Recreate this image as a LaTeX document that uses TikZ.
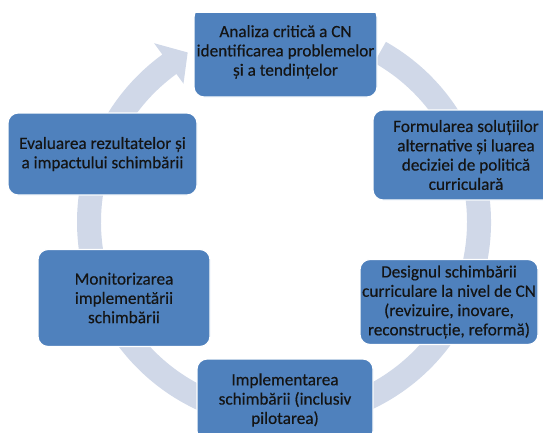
\documentclass[tikz,border=0pt]{standalone}
\usepackage{fontspec}
\setmainfont{Carlito}[FakeBold=0.4]
\definecolor{stageblue}{RGB}{79,129,189}
\definecolor{ringblue}{RGB}{208,216,232}
\definecolor{stagetext}{RGB}{20,20,20}
\begin{document}
\begin{tikzpicture}[x=1pt, y=1pt,
    stage/.style={draw=white, line width=1.2pt, fill=stageblue, rounded corners=10pt,
      text=stagetext, align=center, inner sep=0pt,
      font=\fontsize{17.2}{19.3}\selectfont},
    ring/.style={fill=ringblue}]
    \useasboundingbox (0,0) rectangle (543,-432);
    \clip (0,-13) rectangle (543,-432);
    % circular arrow behind the stages
    \fill[ring] ([shift={(284,-222)}]60.5:207) arc[start angle=60.5, end angle=-234, radius=207]
      -- ([shift={(284,-222)}]-234:221) -- ([shift={(284,-222)}]-240.4:195)
      -- ([shift={(284,-222)}]-234:171) -- ([shift={(284,-222)}]-234:183)
      arc[start angle=-234, end angle=60.5, radius=183] -- cycle;
    \node[stage, minimum width=183pt, minimum height=90pt] (analiza) at (285.5,-52)
      {Analiza critică a CN\\identificarea problemelor\\și a tendințelor};
    \node[stage, minimum width=186pt, minimum height=90pt] (formulare) at (466,-155)
      {Formularea soluțiilor\\alternative și luarea\\deciziei de politică\\curriculară};
    \node[stage, minimum width=178pt, minimum height=85pt] (design) at (449,-302)
      {Designul schimbării\\curriculare la nivel de CN\\(revizuire, inovare,\\reconstrucție, reformă)};
    \node[stage, minimum width=176pt, minimum height=82pt] (implementare) at (285,-400)
      {Implementarea\\schimbării (inclusiv\\pilotarea)};
    \node[stage, minimum width=172pt, minimum height=97pt] (monitorizare) at (124,-298)
      {Monitorizarea\\implementării\\schimbării};
    \node[stage, minimum width=189pt, minimum height=82pt] (evaluare) at (102.5,-154)
      {Evaluarea rezultatelor și\\a impactului schimbării};
\end{tikzpicture}
\end{document}
